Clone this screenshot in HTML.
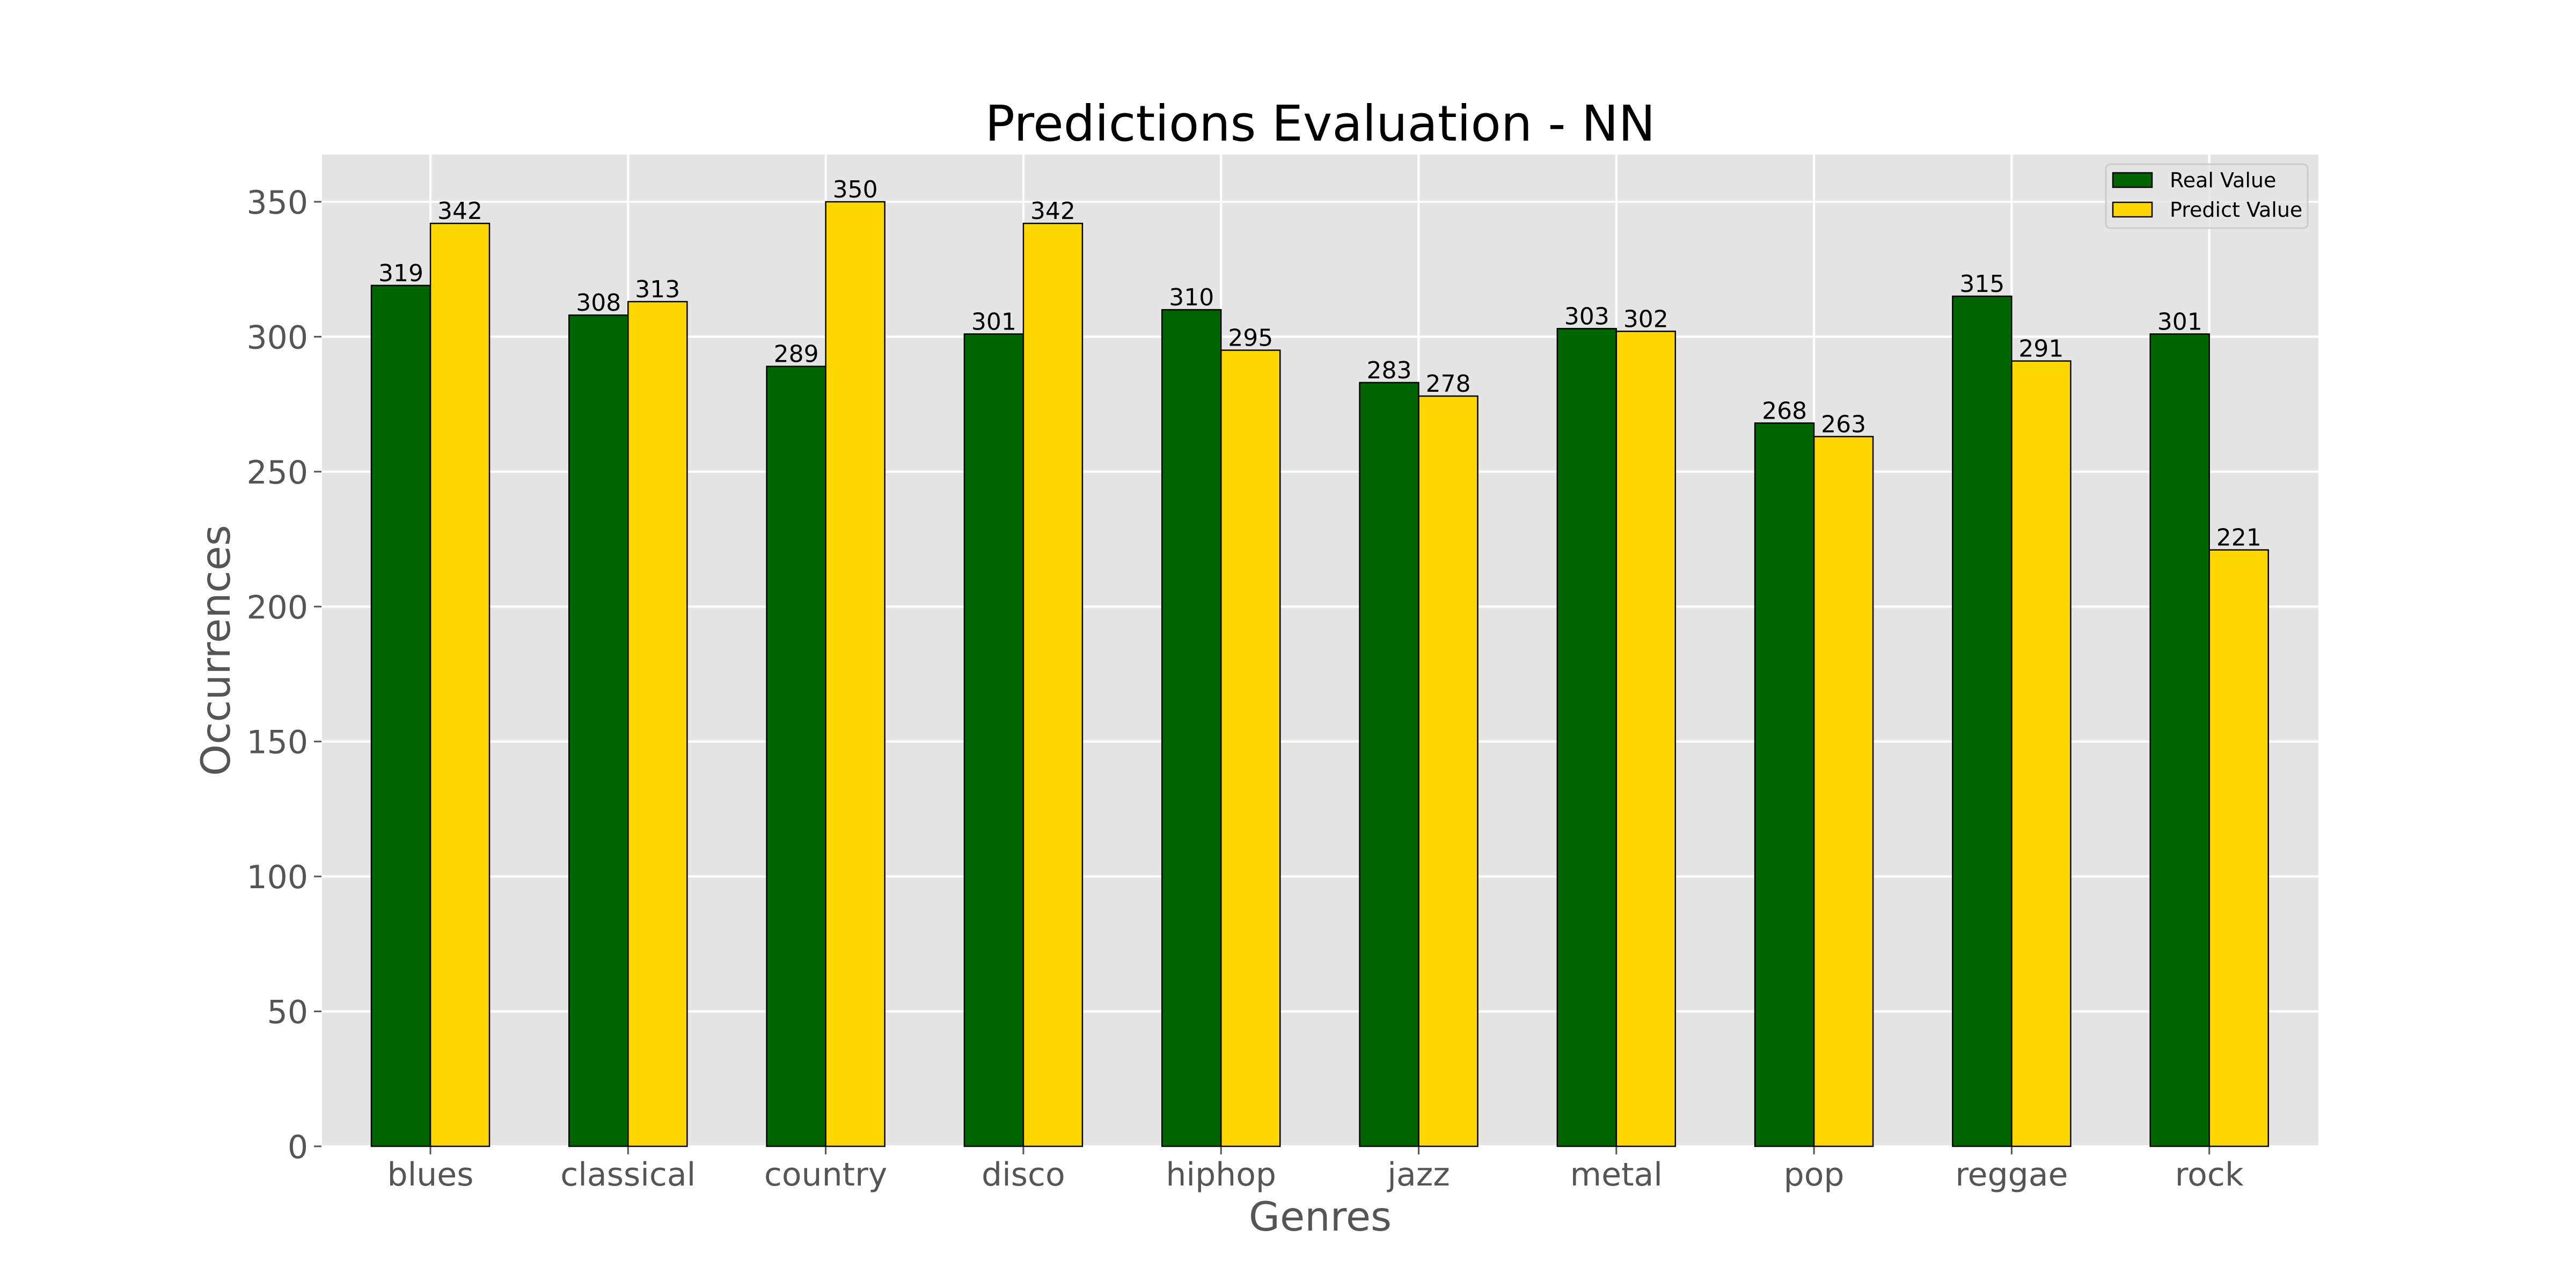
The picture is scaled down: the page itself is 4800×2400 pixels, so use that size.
<!DOCTYPE html>
<html><head><meta charset="utf-8"><style>
html,body{margin:0;padding:0;background:#fff;}
svg{display:block;font-family:"DejaVu Sans","Liberation Sans",sans-serif;}
</style></head><body>
<svg id="chart" width="4800" height="2400" viewBox="0 0 4800 2400" xmlns="http://www.w3.org/2000/svg">
<rect x="600" y="288" width="3720" height="1848" fill="#e5e5e5"/>
<g id="grid"></g>
<g id="bars"></g>
<g id="labels"></g>
<g id="axes"></g>
<text x="2460" y="262" font-size="92" text-anchor="middle" fill="#000">Predictions Evaluation - NN</text>
<text x="2460" y="2293" font-size="75" text-anchor="middle" fill="#555">Genres</text>
<text x="0" y="0" font-size="75" text-anchor="middle" fill="#555" transform="translate(428,1212) rotate(-90)">Occurrences</text>
<g>
<rect x="3924" y="306" width="376" height="119" rx="8" fill="#e5e5e5" fill-opacity="0.8" stroke="#ccc" stroke-width="3"/>
<rect x="3937" y="322" width="73" height="27" fill="#006400" stroke="#000" stroke-width="2.5"/>
<text x="4043" y="349" font-size="38" fill="#000">Real Value</text>
<rect x="3937" y="377" width="73" height="27" fill="#ffd700" stroke="#000" stroke-width="2.5"/>
<text x="4043" y="404" font-size="38" fill="#000">Predict Value</text>
</g>
</svg>
<script>
const categories = ["blues","classical","country","disco","hiphop","jazz","metal","pop","reggae","rock"];
const realValues = [319,308,289,301,310,283,303,268,315,301];
const predictValues = [342,313,350,342,295,278,302,263,291,221];
const yTicks = [0,50,100,150,200,250,300,350];

const NS = "http://www.w3.org/2000/svg";
const plotLeft = 600, plotRight = 4320, plotTop = 288, plotBottom = 2136;
const yMax = 367.5;
const x0 = 802, step = 368.3, barW = 110;
function xScale(i){ return x0 + i*step; }
function yScale(v){ return plotBottom - v*(plotBottom-plotTop)/yMax; }
function mk(tag, attrs, parent){ const e=document.createElementNS(NS,tag); for(const k in attrs) e.setAttribute(k,attrs[k]); parent.appendChild(e); return e; }

const grid=document.getElementById('grid'), bars=document.getElementById('bars'), labels=document.getElementById('labels'), axes=document.getElementById('axes');

yTicks.forEach(t=>{
  const y=yScale(t);
  const g=mk('line',{x1:plotLeft,x2:plotRight,y1:y,y2:y,stroke:'#fff','stroke-width':4},grid);
  
  
  const tk=mk('line',{x1:585,x2:599,y1:y,y2:y,stroke:'#555','stroke-width':3},axes);
  
  
  const tl=mk('text',{x:574,y:y+22,'font-size':60,'text-anchor':'end',fill:'#555'},axes);
  tl.textContent=t;
  
  
});
categories.forEach((c,i)=>{
  const x=xScale(i);
  const g=mk('line',{x1:x,x2:x,y1:plotTop,y2:plotBottom,stroke:'#fff','stroke-width':4},grid);
  
  
  const tk=mk('line',{x1:x,x2:x,y1:2137,y2:2151,stroke:'#555','stroke-width':3},axes);
  
  
  const tl=mk('text',{x:x,y:2209,'font-size':60,'text-anchor':'middle',fill:'#555'},axes);
  tl.textContent=c;
  
  

  [[realValues[i],x-barW,'#006400','bar-real'],[predictValues[i],x,'#ffd700','bar-predict']].forEach(([v,bx,col,nm])=>{
    const y=yScale(v);
    const r=mk('rect',{x:bx,y:y,width:barW,height:plotBottom-y,fill:col,stroke:'#000','stroke-width':2.5},bars);
    
    
    const l=mk('text',{x:bx+barW/2,y:y-8,'font-size':44,'text-anchor':'middle',fill:'#000'},labels);
    l.textContent=v;
    
    
  });
});
</script>
</body></html>
